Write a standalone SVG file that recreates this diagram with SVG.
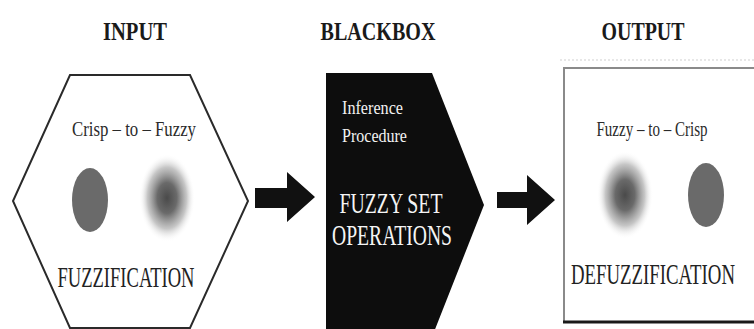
<svg xmlns="http://www.w3.org/2000/svg" width="754" height="329" viewBox="0 0 754 329">
<defs>
<radialGradient id="fuzz" cx="0.5" cy="0.5" r="0.5">
<stop offset="0" stop-color="#4a4a4a"/>
<stop offset="0.35" stop-color="#6a6a6a"/>
<stop offset="0.7" stop-color="#b8b8b8" stop-opacity="0.8"/>
<stop offset="1" stop-color="#ffffff" stop-opacity="0"/>
</radialGradient>
<style>
.title{font-family:"Liberation Serif",serif;font-weight:bold;font-size:26px;fill:#1a1a1a}
.lab{font-family:"Liberation Serif",serif;font-size:21px;fill:#2a2a2a}
.big{font-family:"Liberation Serif",serif;font-size:30px;fill:#222}
.wsm{font-family:"Liberation Serif",serif;font-size:19px;fill:#f2f2f2}
.wbig{font-family:"Liberation Serif",serif;font-size:29px;fill:#f5f5f5}
.crisp{fill:#6a6a6a}
.fuzzy{fill:url(#fuzz)}
</style>
</defs>
<rect width="754" height="329" fill="#ffffff"/>
<g id="titles">
<text class="title" x="135" y="40" text-anchor="middle" textLength="64" lengthAdjust="spacingAndGlyphs">INPUT</text>
<text class="title" x="378" y="40" text-anchor="middle" textLength="115" lengthAdjust="spacingAndGlyphs">BLACKBOX</text>
<text class="title" x="643" y="40" text-anchor="middle" textLength="83" lengthAdjust="spacingAndGlyphs">OUTPUT</text>
</g>
<g id="input">
<polygon points="70,75 190,75 248,201 190,328 70,328 13,201" fill="#ffffff" stroke="#2a2a2a" stroke-width="2"/>
<text class="lab" x="134" y="136" text-anchor="middle" textLength="124" lengthAdjust="spacingAndGlyphs">Crisp – to – Fuzzy</text>
<ellipse class="crisp" cx="90" cy="200" rx="18" ry="32"/>
<ellipse class="fuzzy" cx="167" cy="198" rx="28" ry="44"/>
<text class="big" x="126" y="287" text-anchor="middle" textLength="137" lengthAdjust="spacingAndGlyphs">FUZZIFICATION</text>
</g>
<g id="blackbox">
<polygon points="326,73 432,73 484,205 432,337 326,337" fill="#0d0d0d"/>
<text class="wsm" x="342" y="114" textLength="61" lengthAdjust="spacingAndGlyphs">Inference</text>
<text class="wsm" x="342" y="142" textLength="65" lengthAdjust="spacingAndGlyphs">Procedure</text>
<text class="wbig" x="391" y="213" text-anchor="middle" textLength="103" lengthAdjust="spacingAndGlyphs">FUZZY SET</text>
<text class="wbig" x="392" y="245" text-anchor="middle" textLength="120" lengthAdjust="spacingAndGlyphs">OPERATIONS</text>
</g>
<g id="output">
<line x1="560" y1="60" x2="754" y2="60" stroke="#cfcfcf" stroke-width="1" stroke-dasharray="2,2"/>
<path d="M754,68 H564 V322" fill="none" stroke="#8a8a8a" stroke-width="2"/>
<line x1="563" y1="322" x2="754" y2="322" stroke="#1a1a1a" stroke-width="3"/>
<text class="lab" x="652" y="136" text-anchor="middle" textLength="111" lengthAdjust="spacingAndGlyphs">Fuzzy – to – Crisp</text>
<ellipse class="fuzzy" cx="625" cy="195" rx="28" ry="44"/>
<ellipse class="crisp" cx="706" cy="195" rx="18" ry="32"/>
<text class="big" transform="translate(653,284) scale(0.627,1)" text-anchor="middle">DEFUZZIFICATION</text>
</g>
<g id="connectors" fill="#111111">
<polygon points="255,188 287,188 287,172 315,197 287,222 287,208 255,208"/>
<polygon points="497,192 527,192 527,175 555,200 527,225 527,208 497,208"/>
</g>
</svg>
